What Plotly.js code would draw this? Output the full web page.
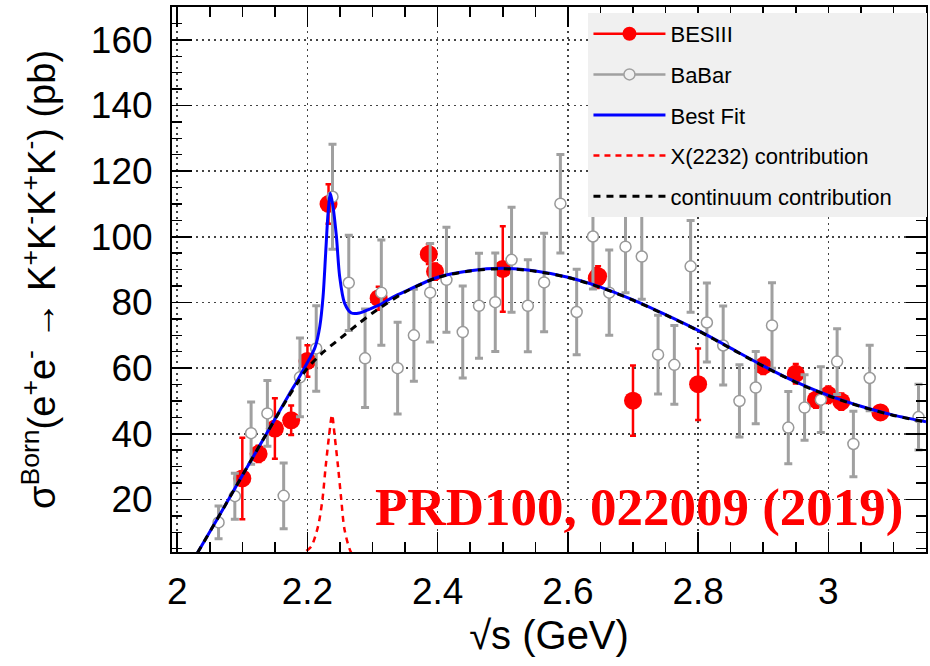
<!DOCTYPE html>
<html>
<head>
<meta charset="utf-8">
<script src="https://cdn.plot.ly/plotly-3.0.1.min.js"></script>
<style>html,body{margin:0;padding:0;background:#fff;}#chart{width:930px;height:666px;}</style>
</head>
<body>
<div id="chart"></div>
<script>
// BESIII measurements (sqrt(s) in GeV, sigma in pb)
const besX = [2.1000, 2.1250, 2.1500, 2.1750, 2.2000, 2.2324, 2.3094, 2.3864, 2.3960, 2.5000, 2.6444, 2.6464, 2.7000, 2.8000, 2.9000, 2.9500, 2.9810, 3.0000, 3.0200, 3.0800];
const besY = [26.4, 33.9, 41.6, 44.1, 62.2, 110.0, 81.3, 94.7, 89.4, 90.2, 87.4, 88.0, 50.1, 55.1, 60.7, 58.3, 50.4, 51.9, 49.8, 46.5];
const besErr = [12.4, 2.5, 9.2, 4.5, 4.8, 6.0, 3.5, 3.0, 2.5, 13.0, 3.0, 3.0, 10.7, 10.9, 2.5, 3.0, 2.5, 2.5, 2.5, 2.0];

// BaBar measurements
const babarX = [2.0635, 2.0885, 2.1135, 2.1385, 2.1635, 2.1885, 2.2135, 2.2385, 2.2635, 2.2885, 2.3135, 2.3385, 2.3635, 2.3885, 2.4135, 2.4385, 2.4635, 2.4885, 2.5135, 2.5385, 2.5635, 2.5885, 2.6135, 2.6385, 2.6635, 2.6885, 2.7135, 2.7385, 2.7635, 2.7885, 2.8135, 2.8385, 2.8635, 2.8885, 2.9135, 2.9385, 2.9635, 2.9885, 3.0135, 3.0385, 3.0635, 3.1385];
const babarY = [13.0, 21.0, 40.2, 46.2, 21.1, 57.2, 66.0, 112.2, 86.0, 63.0, 83.0, 60.0, 70.0, 83.0, 86.9, 71.0, 79.0, 80.1, 93.0, 79.0, 86.1, 110.1, 77.1, 100.1, 83.0, 97.0, 94.0, 64.1, 61.0, 91.0, 73.9, 66.9, 50.0, 54.1, 73.0, 41.9, 48.0, 50.4, 62.0, 36.9, 57.0, 45.1];
const babarErr = [5, 7, 9.5, 10, 10, 12, 13, 16, 14.5, 15, 16, 14, 14, 15, 16, 14, 16, 15, 16, 14, 15, 15, 13, 16, 13, 14, 13, 12, 12, 14, 12, 12, 11, 11, 13, 11, 10, 10, 10, 10, 10, 10];

// Best fit curve
const fitX = [2.031, 2.06, 2.10, 2.14, 2.17, 2.185, 2.195, 2.205, 2.212, 2.219, 2.224, 2.228, 2.2317, 2.2353, 2.2393, 2.2445, 2.2495, 2.257, 2.2675, 2.28, 2.2955, 2.311, 2.33, 2.35, 2.40, 2.45, 2.50, 2.55, 2.60, 2.65, 2.70, 2.75, 2.80, 2.85, 2.90, 2.95, 3.00, 3.05, 3.10, 3.15];
const fitY = [3.7, 13.5, 27.3, 41.0, 51.4, 56.4, 60.0, 63.5, 66.5, 72.7, 81.8, 95.0, 107.2, 113.3, 109.2, 100.1, 87.9, 79.8, 76.8, 76.8, 78.0, 79.3, 81.5, 83.4, 87.7, 89.7, 90.4, 89.6, 87.7, 84.7, 80.8, 76.3, 71.5, 66.1, 60.7, 55.8, 51.7, 48.4, 45.7, 43.7];

// X(2232) contribution
const resX = [2.190, 2.196, 2.206, 2.2163, 2.223, 2.228, 2.2331, 2.2378, 2.2419, 2.247, 2.252, 2.257, 2.2675, 2.280];
const resY = [1.5, 3.8, 5.7, 11.8, 19.9, 30.0, 39.2, 45.8, 39.2, 30.0, 19.9, 10.8, 3.7, 1.5];

// Continuum contribution
const contX = [2.031, 2.06, 2.10, 2.14, 2.17, 2.185, 2.20, 2.225, 2.25, 2.275, 2.30, 2.35, 2.40, 2.45, 2.50, 2.55, 2.60, 2.65, 2.70, 2.75, 2.80, 2.85, 2.90, 2.95, 3.00, 3.05, 3.10, 3.15];
const contY = [3.7, 13.5, 27.3, 41.0, 51.0, 55.6, 60.0, 65.0, 69.0, 73.0, 76.8, 83.2, 87.6, 89.6, 90.3, 89.5, 87.6, 84.6, 80.7, 76.2, 71.4, 66.0, 60.6, 55.7, 51.6, 48.3, 45.6, 43.6];

const yTicks = [20, 40, 60, 80, 100, 120, 140, 160];
const xTicks = [2, 2.2, 2.4, 2.6, 2.8, 3];
const xTickText = ['2', '2.2', '2.4', '2.6', '2.8', '3'];

const FONT = 'Liberation Sans, Arial, Helvetica, sans-serif';
const PAD = '\u00a0\u00a0\u00a0\u00a0\u00a0';

const traces = [
  { x: besX, y: besY, type: 'scatter', mode: 'markers', showlegend: false, legendgroup: 'g1',
    marker: { color: '#ff0000', size: 18, symbol: 'circle' },
    error_y: { type: 'data', array: besErr, visible: true, color: '#ff0000', thickness: 2.5, width: 3 } },
  { x: babarX, y: babarY, type: 'scatter', mode: 'markers', showlegend: false, legendgroup: 'g2',
    marker: { color: '#ffffff', size: 11, symbol: 'circle', line: { color: '#999999', width: 1.5 } },
    error_y: { type: 'data', array: babarErr, visible: true, color: '#a0a0a0', thickness: 3, width: 4 } },
  { x: [null], y: [null], type: 'scatter', mode: 'lines+markers', name: 'BESIII', legendgroup: 'g1',
    line: { color: '#ff0000', width: 2.5 }, marker: { color: '#ff0000', size: 14 } },
  { x: [null], y: [null], type: 'scatter', mode: 'lines+markers', name: 'BaBar', legendgroup: 'g2',
    line: { color: '#a0a0a0', width: 2.5 }, marker: { color: '#f0f0f0', size: 11, line: { color: '#a0a0a0', width: 1.5 } } },
  { x: fitX, y: fitY, type: 'scatter', mode: 'lines', name: 'Best Fit', legendgroup: 'g3',
    line: { color: '#0000ff', width: 3, shape: 'spline', smoothing: 0.8 } },
  { x: resX, y: resY, type: 'scatter', mode: 'lines', name: 'X(2232) contribution', legendgroup: 'g4',
    line: { color: '#ff0000', width: 2.5, dash: '6px,5px', shape: 'spline', smoothing: 0.8 } },
  { x: contX, y: contY, type: 'scatter', mode: 'lines', name: 'continuum contribution' + PAD, legendgroup: 'g5',
    line: { color: '#000000', width: 3, dash: '7px,6px', shape: 'spline', smoothing: 0.8 } }
];

const layout = {
  width: 930, height: 666,
  margin: { l: 172, r: 3, t: 7, b: 114 },
  paper_bgcolor: '#ffffff', plot_bgcolor: '#ffffff',
  font: { family: FONT, color: '#000000' },
  showlegend: true,
  legend: {
    x: 0.5516, y: 0.989, xanchor: 'left', yanchor: 'top',
    bgcolor: '#f0f0f0', borderwidth: 0,
    font: { family: FONT, size: 22, color: '#000000' },
    traceorder: 'grouped', tracegroupgap: 9, itemwidth: 72
  },
  xaxis: {
    range: [1.992, 3.15], tickvals: xTicks, ticktext: xTickText,
    ticks: 'inside', ticklen: 20, tickwidth: 1.5, tickcolor: '#000',
    minor: { dtick: 0.05, ticks: 'inside', ticklen: 10, tickwidth: 1.5, tickcolor: '#000', showgrid: false },
    showline: true, linecolor: '#000', linewidth: 2, mirror: 'ticks',
    showgrid: true, gridcolor: '#444444', gridwidth: 1.5, griddash: '2px,4px',
    zeroline: false,
    tickfont: { family: FONT, size: 37 }, ticklabelstandoff: 6,
    title: { text: '√s (GeV)', font: { family: FONT, size: 40 }, standoff: 10 }
  },
  yaxis: {
    range: [4, 170], tickvals: yTicks,
    ticks: 'inside', ticklen: 20, tickwidth: 1.5, tickcolor: '#000',
    minor: { dtick: 5, ticks: 'inside', ticklen: 10, tickwidth: 1.5, tickcolor: '#000', showgrid: false },
    showline: true, linecolor: '#000', linewidth: 2, mirror: 'ticks',
    showgrid: true, gridcolor: '#444444', gridwidth: 1.5, griddash: '2px,4px',
    zeroline: false,
    tickfont: { family: FONT, size: 37 }, ticklabelstandoff: 10,
    title: { text: 'σ<sup>Born</sup>(e<sup>+</sup>e<sup>-</sup> → K<sup>+</sup>K<sup>-</sup>K<sup>+</sup>K<sup>-</sup>) (pb)', font: { family: FONT, size: 38 }, standoff: 24 }
  },
  annotations: [{
    xref: 'paper', yref: 'paper', x: 0.619, y: 0.081, xanchor: 'center', yanchor: 'middle',
    text: '<b>PRD100, 022009 (2019)</b>', showarrow: false,
    font: { family: 'Liberation Serif, Times New Roman, serif', size: 53, color: '#ff0000' }
  }]
};

Plotly.newPlot('chart', traces, layout, { displayModeBar: false, staticPlot: true });
</script>
</body>
</html>
